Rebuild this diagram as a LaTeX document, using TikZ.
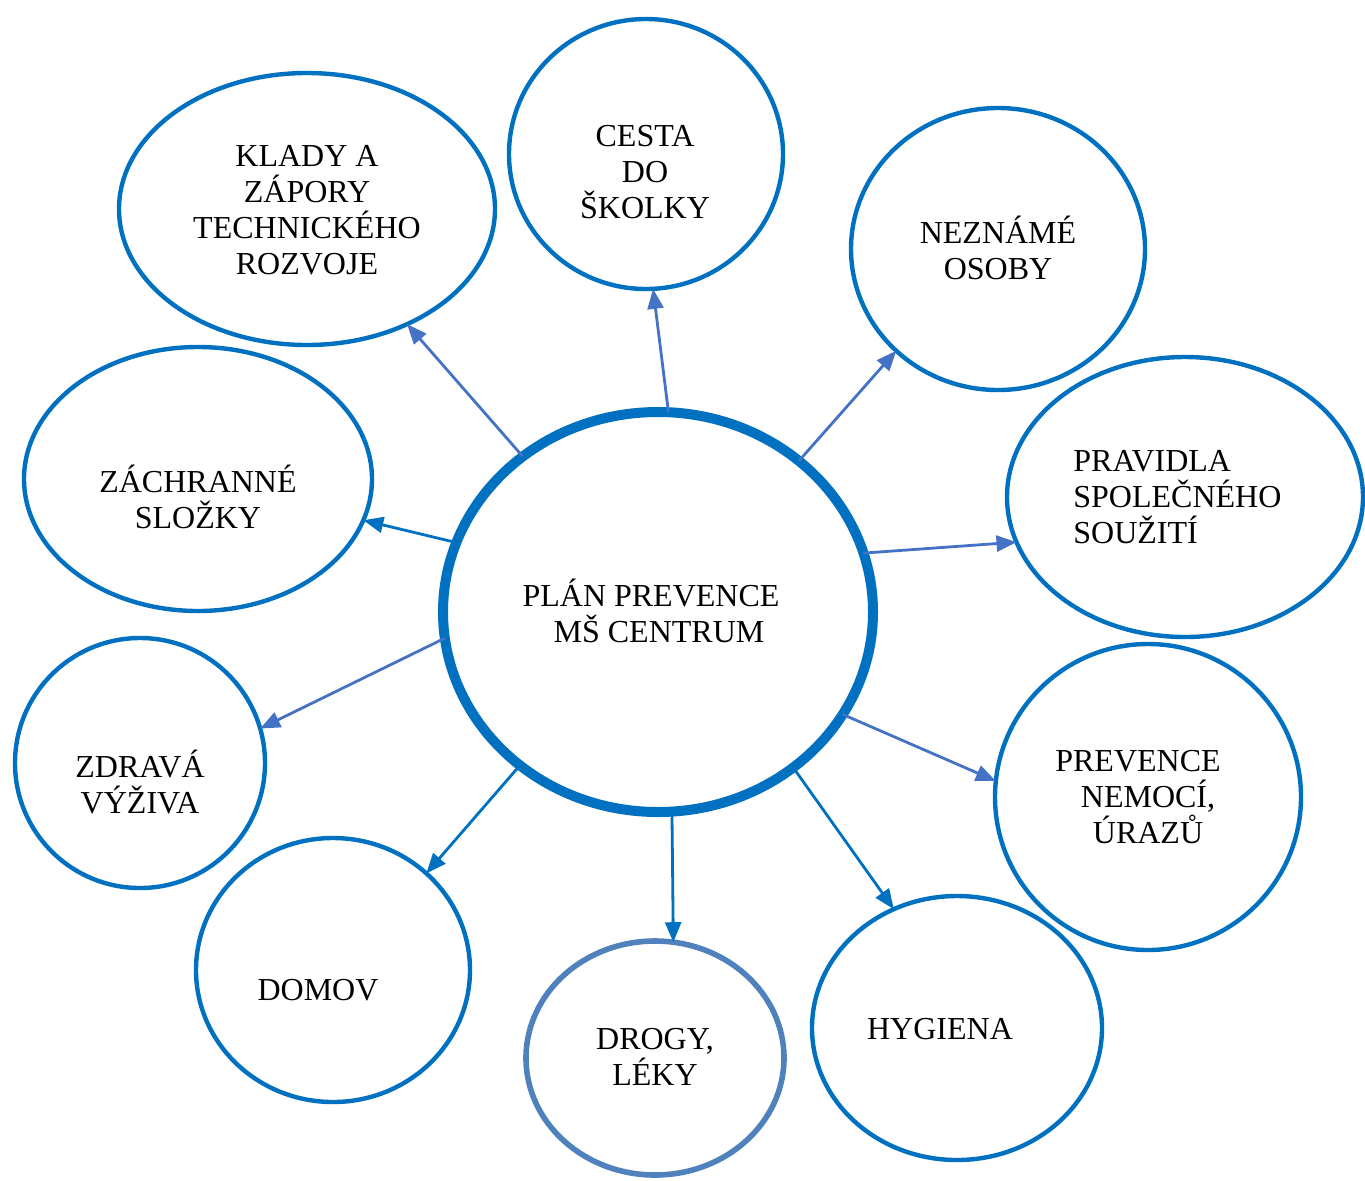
\documentclass[tikz,border=0pt]{standalone}
\usepackage{fontspec}
\setmainfont{Liberation Serif}
\usetikzlibrary{shapes.geometric,arrows.meta}
\definecolor{mainblue}{RGB}{0,112,192}
\definecolor{lightarrow}{RGB}{68,114,196}
\definecolor{drogblue}{RGB}{79,129,189}
\tikzset{
  bubble/.style={ellipse,draw=mainblue,line width=2.2pt,inner sep=0pt,outer sep=0pt},
  lbl/.style={font=\fontsize{16}{18}\selectfont,align=center,inner sep=0pt},
  arrA/.style={draw=lightarrow,line width=1.4pt,-{Triangle[length=10pt,width=8pt]}},
  arrB/.style={draw=mainblue,line width=1.4pt,-{Triangle[length=10pt,width=8pt]}}
}
\begin{document}
\begin{tikzpicture}[x=0.5pt,y=-0.5pt]
\useasboundingbox (0,0) rectangle (1365,1180);
% central
\node[bubble,line width=5pt,minimum width=215pt,minimum height=200pt] (c) at (658,612) {};
% outer bubbles
\node[bubble,minimum width=188pt,minimum height=136pt] (kl) at (307,209) {};
\node[bubble,minimum width=137pt,minimum height=135pt] (ce) at (646,154) {};
\node[bubble,minimum width=147pt,minimum height=141pt] (ne) at (998,249) {};
\node[bubble,minimum width=178pt,minimum height=140pt] (pr) at (1185,497) {};
\node[bubble,minimum width=153pt,minimum height=153pt] (pn) at (1148,797) {};
\node[bubble,minimum width=145pt,minimum height=132pt] (hy) at (957,1028) {};
\node[bubble,draw=drogblue,line width=2.8pt,minimum width=129pt,minimum height=117pt] (dr) at (655,1058) {};
\node[bubble,minimum width=137pt,minimum height=132pt] (do) at (333,970) {};
\node[bubble,minimum width=125pt,minimum height=125pt] (zv) at (140,763) {};
\node[bubble,minimum width=174pt,minimum height=132pt] (zs) at (198,479) {};
% labels
\node[lbl] (tc) at (651,611) {PLÁN PREVENCE\\\hspace*{8pt}MŠ CENTRUM};
\node[lbl] (tkl) at (307,210) {KLADY A\\ZÁPORY\\TECHNICKÉHO\\ROZVOJE};
\node[lbl] (tce) at (645,172) {CESTA\\DO\\ŠKOLKY};
\node[lbl] (tne) at (998,248) {NEZNÁMÉ\\OSOBY};
\node[lbl,align=left,anchor=west] (tpr) at (1073,497) {PRAVIDLA\\SPOLEČNÉHO\\SOUŽITÍ};
\node[lbl] (tpn) at (1138,797) {PREVENCE\\\hspace*{10pt}NEMOCÍ,\\\hspace*{10pt}ÚRAZŮ};
\node[lbl] (thy) at (940,1029) {HYGIENA};
\node[lbl] (tdr) at (655,1057) {DROGY,\\LÉKY};
\node[lbl] (tdo) at (318,990) {DOMOV};
\node[lbl] (tzv) at (140,782) {ZDRAVÁ\\VÝŽIVA};
\node[lbl] (tzs) at (198,497) {ZÁCHRANNÉ\\SLOŽKY};
% connectors
\draw[arrA] (c.131.2) -- (kl.311.1);
\draw[arrA] (c.87.9) -- (ce.273.8);
\draw[arrA] (c.47.8) -- (ne.225.6);
\draw[arrA] (c.16.4) -- (pr.195.8);
\draw[arrA] (c.331.3) -- (pn.174.8);
\draw[arrB] (c.311.4) -- (hy.118.9);
\draw[arrB] (c.274.4) -- (dr.81.4);
\draw[arrB] (c.228.2) -- (do.46.5);
\draw[arrA] (c.187.7) -- (zv.16);
\draw[arrB] (c.161.7) -- (zs.346.1);
\end{tikzpicture}
\end{document}
